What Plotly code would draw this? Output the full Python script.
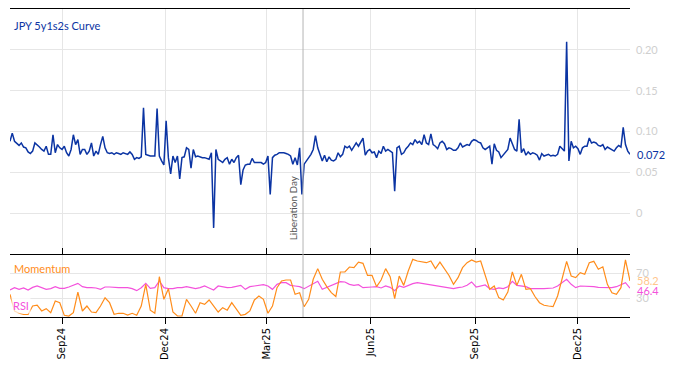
import pandas as pd
import plotly.graph_objects as go

# ---------------- data ----------------
curve_start = "2024-07-17"
curve_values = [
    0.088, 0.098, 0.088, 0.085, 0.083, 0.086, 0.081, 0.080, 0.075, 0.073,
    0.076, 0.086, 0.084, 0.081, 0.078, 0.076, 0.082, 0.072, 0.072, 0.096,
    0.074, 0.084, 0.080, 0.078, 0.082, 0.074, 0.070, 0.078, 0.096, 0.084,
    0.090, 0.072, 0.078, 0.078, 0.072, 0.076, 0.086, 0.070, 0.076, 0.072,
    0.084, 0.094, 0.080, 0.074, 0.073, 0.074, 0.072, 0.074, 0.073, 0.072,
    0.074, 0.073, 0.072, 0.075, 0.072, 0.066, 0.068, 0.067, 0.069, 0.129,
    0.072, 0.071, 0.070, 0.070, 0.070, 0.128, 0.070, 0.064, 0.059, 0.113,
    0.068, 0.048, 0.070, 0.062, 0.070, 0.042, 0.068, 0.069, 0.080, 0.078,
    0.055, 0.078, 0.069, 0.070, 0.069, 0.068, 0.068, 0.067, 0.066, 0.074,
    -0.018, 0.078, 0.066, 0.064, 0.062, 0.066, 0.068, 0.060, 0.066, 0.062,
    0.068, 0.071, 0.035, 0.053, 0.059, 0.060, 0.060, 0.067, 0.062, 0.062,
    0.062, 0.062, 0.060, 0.062, 0.070, 0.023, 0.068, 0.071, 0.072, 0.074,
    0.074, 0.074, 0.073, 0.072, 0.070, 0.060, 0.068, 0.059, 0.080, 0.023,
    0.060, 0.064, 0.068, 0.072, 0.078, 0.095, 0.080, 0.073, 0.064, 0.071,
    0.063, 0.069, 0.065, 0.064, 0.066, 0.074, 0.069, 0.072, 0.082, 0.080,
    0.082, 0.077, 0.082, 0.086, 0.082, 0.087, 0.092, 0.071, 0.076, 0.078,
    0.074, 0.075, 0.068, 0.076, 0.073, 0.082, 0.076, 0.078, 0.076, 0.074,
    0.027, 0.080, 0.082, 0.072, 0.074, 0.079, 0.082, 0.086, 0.084, 0.090,
    0.086, 0.088, 0.084, 0.096, 0.086, 0.084, 0.097, 0.084, 0.082, 0.079,
    0.086, 0.088, 0.085, 0.078, 0.080, 0.079, 0.077, 0.077, 0.080, 0.086,
    0.081, 0.083, 0.084, 0.083, 0.088, 0.090, 0.089, 0.087, 0.086, 0.080,
    0.078, 0.080, 0.082, 0.060, 0.085, 0.077, 0.075, 0.068, 0.071, 0.075,
    0.078, 0.092, 0.084, 0.078, 0.076, 0.115, 0.074, 0.079, 0.071, 0.075,
    0.072, 0.074, 0.073, 0.071, 0.065, 0.073, 0.070, 0.071, 0.072, 0.070,
    0.071, 0.070, 0.072, 0.082, 0.079, 0.076, 0.210, 0.064, 0.088, 0.080,
    0.082, 0.079, 0.072, 0.080, 0.082, 0.082, 0.092, 0.086, 0.087, 0.086,
    0.083, 0.082, 0.084, 0.078, 0.081, 0.079, 0.078, 0.076, 0.080, 0.083,
    0.081, 0.105, 0.084, 0.076, 0.072,
]

osc_start = "2024-07-17"
momentum_values = [
    36.6, 9.7, 6.0, 4.0, 4.0, 17.7, 19.0, 9.7, 13.5, 7.0,
    25.8, 23.1, 2.7, 1.6, 7.0, 40.0, 9.7, 17.7, 8.0, 7.0,
    17.7, 31.0, 23.1, 4.3, 6.0, 6.0, 3.0, 6.0, 2.7, 17.7,
    52.7, 11.0, 6.0, 65.0, 28.5, 45.7, 8.0, 1.6, 1.6, 28.5,
    17.7, 6.0, 23.1, 20.4, 27.5, 17.7, 8.0, 15.1, 11.0, 23.1,
    12.4, 2.7, 4.3, 9.7, 27.5, 33.9, 28.5, 6.0, 17.7, 47.3,
    58.1, 59.7, 59.7, 36.6, 39.2, 16.6, 28.5, 60.8, 78.0, 60.8,
    49.0, 39.2, 33.0, 72.6, 72.6, 80.6, 79.6, 88.6, 86.6, 67.0,
    67.0, 49.0, 59.7, 78.0, 65.0, 29.6, 66.1, 51.0, 74.2, 93.0,
    90.3, 88.6, 87.6, 90.3, 78.0, 88.6, 77.0, 67.0, 52.7, 63.5,
    79.6, 87.6, 92.0, 88.6, 90.3, 68.8, 44.6, 50.0, 31.2, 27.5,
    40.3, 72.6, 51.0, 68.8, 44.6, 45.7, 33.0, 23.1, 19.0, 17.7,
    16.6, 33.9, 60.8, 89.8, 66.1, 63.5, 71.5, 68.8, 87.6, 89.8,
    77.0, 81.0, 52.7, 39.2, 36.6, 47.3, 92.0, 58.2,
]
rsi_values = [
    43.5, 47.3, 44.6, 46.8, 43.5, 47.8, 50.0, 46.8, 44.6, 45.7,
    48.9, 46.2, 46.2, 48.4, 51.1, 54.3, 48.9, 47.3, 47.3, 46.8,
    44.6, 48.4, 48.4, 47.3, 47.3, 47.3, 47.3, 45.7, 42.5, 47.3,
    54.3, 46.2, 47.3, 58.1, 47.3, 45.7, 45.7, 47.3, 47.3, 48.9,
    47.3, 45.7, 47.3, 50.0, 46.8, 43.5, 50.0, 48.9, 47.3, 47.8,
    48.9, 51.1, 44.6, 48.9, 50.0, 51.1, 52.2, 50.0, 44.6, 52.7,
    55.4, 55.4, 51.1, 50.0, 48.9, 45.7, 50.0, 54.0, 57.6, 44.6,
    47.8, 50.0, 54.3, 57.0, 56.5, 52.7, 51.1, 52.2, 47.3, 48.4,
    48.4, 48.9, 46.8, 50.0, 47.8, 42.5, 50.0, 47.8, 51.1, 53.8,
    55.4, 54.3, 53.2, 51.1, 50.0, 48.9, 48.4, 47.3, 45.7, 47.3,
    48.4, 51.1, 56.5, 48.4, 50.0, 51.6, 45.7, 44.6, 46.8, 45.7,
    48.9, 57.6, 51.1, 50.0, 48.9, 45.7, 46.2, 45.7, 45.7, 45.7,
    46.8, 50.0, 55.4, 60.8, 52.7, 47.3, 50.0, 50.0, 50.0, 48.9,
    47.8, 47.3, 47.3, 47.3, 48.9, 52.7, 55.4, 46.4,
]

event_date = "2025-04-02"
event_label = "Liberation Day"
curve_ticks = [0, 0.05, 0.10, 0.15, 0.20]
curve_tick_text = ["0", "0.05", "0.10", "0.15", "0.20"]
osc_ticks = [30, 70]

curve_dates = pd.date_range(curve_start, periods=len(curve_values), freq="2D")
osc_dates = pd.date_range(osc_start, periods=len(momentum_values), freq="4D")

# ---------------- styling ----------------
BLUE = "#0b34a3"
ORANGE = "#ff8c1a"
MAGENTA = "#f452dc"
GRID = "#e6e6e6"
TICK = "#cfcfcf"
FONT = "Lato"

fig = go.Figure()
fig.add_trace(go.Scatter(x=curve_dates, y=curve_values, mode="lines",
                         line=dict(color=BLUE, width=1.5), xaxis="x", yaxis="y",
                         showlegend=False, hoverinfo="x+y"))
fig.add_trace(go.Scatter(x=osc_dates, y=rsi_values, mode="lines",
                         line=dict(color=MAGENTA, width=1.2), xaxis="x2", yaxis="y2",
                         showlegend=False))
fig.add_trace(go.Scatter(x=osc_dates, y=momentum_values, mode="lines",
                         line=dict(color=ORANGE, width=1.2), xaxis="x2", yaxis="y2",
                         showlegend=False))

x_range = [curve_dates[0], curve_dates[-1]]
common_x = dict(range=x_range, type="date", dtick="M3", tick0="2024-09-01",
                showgrid=True, gridcolor=GRID, gridwidth=1, zeroline=False)

fig.update_layout(
    width=674, height=366,
    margin=dict(l=2, r=52, t=1, b=57),
    paper_bgcolor="white", plot_bgcolor="white",
    font=dict(family=FONT, size=11, color="#333"),
    xaxis=dict(**common_x, domain=[0, 1], anchor="y", side="top",
               showline=True, linecolor="black", linewidth=1,
               showticklabels=False, ticks=""),
    yaxis=dict(domain=[0.2045, 1], range=[-0.05, 0.25], side="right",
               tickvals=curve_ticks, ticktext=curve_tick_text,
               showgrid=True, gridcolor=GRID, zeroline=False, showline=False,
               ticks="", ticklabelstandoff=5,
               tickfont=dict(family=FONT, size=11, color=TICK)),
    xaxis2=dict(**common_x, domain=[0, 1], anchor="y2", matches="x",
                showline=True, linecolor="black", linewidth=1, mirror="ticks",
                ticks="outside", ticklen=6, tickcolor="black",
                tickformat="%b%y", tickangle=-90,
                tickfont=dict(family="DejaVu Sans", size=10, color="black")),
    yaxis2=dict(domain=[0, 0.2013], range=[0, 100], side="right",
                tickvals=osc_ticks, showgrid=True, gridcolor=GRID,
                zeroline=False, showline=False, ticks="", ticklabelstandoff=5,
                tickfont=dict(family=FONT, size=11, color=TICK)),
)

# event line spanning both panels
fig.add_shape(type="line", xref="x", yref="paper", x0=event_date, x1=event_date,
              y0=0, y1=1, line=dict(color="#b4b4b4", width=1))
fig.add_annotation(x=event_date, xref="x", y=0.006, yref="y", text=event_label,
                   textangle=-90, showarrow=False, xanchor="right", yanchor="middle",
                   xshift=-2, font=dict(family=FONT, size=10, color="#555555"))

# titles / labels
fig.add_annotation(x=0, xref="paper", y=1, yref="paper", text="JPY 5y1s2s Curve",
                   showarrow=False, xanchor="left", yanchor="top", xshift=2, yshift=-8,
                   font=dict(family=FONT, size=11, color=BLUE))
fig.add_annotation(x=0, xref="x domain", y=0.98, yref="y2 domain", text="Momentum",
                   showarrow=False, xanchor="left", yanchor="top", xshift=2, yshift=-4,
                   font=dict(family=FONT, size=11, color=ORANGE))
fig.add_annotation(x=0, xref="x domain", y=0.0, yref="y2 domain", text="RSI",
                   showarrow=False, xanchor="left", yanchor="bottom", xshift=1, yshift=3,
                   bgcolor="rgba(255,255,255,0.7)",
                   font=dict(family=FONT, size=11, color=MAGENTA))

# last-value labels
fig.add_annotation(x=1, xref="paper", y=curve_values[-1], yref="y",
                   text=f"{curve_values[-1]:.3f}", showarrow=False, xanchor="left",
                   xshift=5, font=dict(family=FONT, size=11, color=BLUE))
fig.add_annotation(x=1, xref="paper", y=momentum_values[-1], yref="y2",
                   text=f"{momentum_values[-1]:.1f}", showarrow=False, xanchor="left",
                   xshift=5, font=dict(family=FONT, size=11, color="#ffc68c"))
fig.add_annotation(x=1, xref="paper", y=rsi_values[-1], yref="y2",
                   text=f"{rsi_values[-1]:.1f}", showarrow=False, xanchor="left",
                   xshift=5, yshift=-2, font=dict(family=FONT, size=11, color=MAGENTA))

fig.write_html("out.html")
